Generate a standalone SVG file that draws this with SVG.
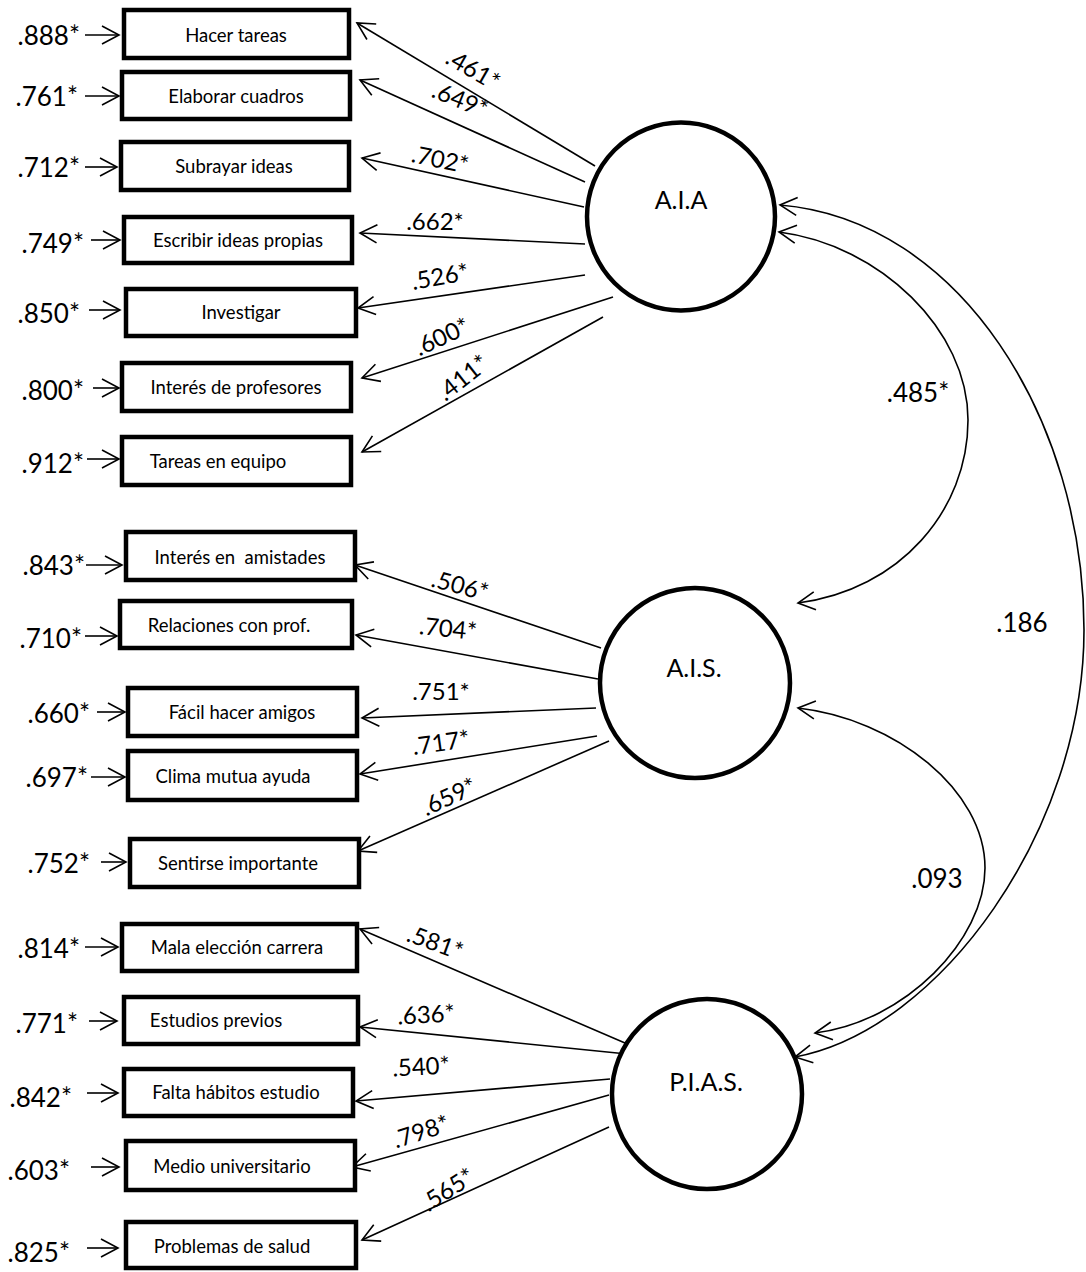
<svg xmlns="http://www.w3.org/2000/svg" width="1086" height="1272" viewBox="0 0 1086 1272">
<style>
text{font-family:Lato,"Liberation Sans",sans-serif;fill:#000}
.box{fill:#fff;stroke:#000;stroke-width:4.5}
.lat{fill:#fff;stroke:#000;stroke-width:4.5}
.bt{font-size:18.5px;text-anchor:middle}
.el{font-size:26px;text-anchor:end}
.ll{font-size:24px;text-anchor:middle}
.cl{font-size:25px;text-anchor:middle}
.cv{font-size:26px;text-anchor:middle}
.ln{fill:none;stroke:#000;stroke-width:1.6;marker-end:url(#ah)}
.arc{fill:none;stroke:#000;stroke-width:1.6;marker-start:url(#ah);marker-end:url(#ah)}
</style>
<defs>
<marker id="ah" markerWidth="22" markerHeight="24" refX="19" refY="12" orient="auto-start-reverse" markerUnits="userSpaceOnUse">
<path d="M2 3 L19 12 L2 21" fill="none" stroke="#000" stroke-width="1.6"/>
</marker>
</defs>
<rect width="1086" height="1272" fill="#fff"/>

<g id="connectors">
<path class="ln" d="M595 166 L357 23"/>
<path class="ln" d="M585 182 L360 80"/>
<path class="ln" d="M584 207 L362 158"/>
<path class="ln" d="M585 244 L360 233"/>
<path class="ln" d="M585 275 L358 308"/>
<path class="ln" d="M613 297 L362 378"/>
<path class="ln" d="M603 317 L362 452"/>
<path class="ln" d="M601 648 L355 565"/>
<path class="ln" d="M598 679 L356 635"/>
<path class="ln" d="M596 708 L362 718"/>
<path class="ln" d="M597 736 L360 774"/>
<path class="ln" d="M609 741 L358 851"/>
<path class="ln" d="M625 1043 L360 929"/>
<path class="ln" d="M627 1054 L360 1027"/>
<path class="ln" d="M610 1079 L356 1101"/>
<path class="ln" d="M609 1095 L352 1167"/>
<path class="ln" d="M609 1127 L362 1240"/>
<path class="ln" d="M85 35 L119 35"/>
<path class="ln" d="M85 96 L119 96"/>
<path class="ln" d="M85 167 L117 167"/>
<path class="ln" d="M91 240 L120 240"/>
<path class="ln" d="M89 310 L120 310"/>
<path class="ln" d="M93 388 L119 388"/>
<path class="ln" d="M87 459 L119 459"/>
<path class="ln" d="M86 565 L122 565"/>
<path class="ln" d="M85 636 L117 636"/>
<path class="ln" d="M97 712 L125 712"/>
<path class="ln" d="M91 777 L125 777"/>
<path class="ln" d="M101 862 L126 862"/>
<path class="ln" d="M85 947 L118 947"/>
<path class="ln" d="M89 1021 L117 1021"/>
<path class="ln" d="M87 1093 L118 1093"/>
<path class="ln" d="M91 1167 L119 1167"/>
<path class="ln" d="M87 1248 L118 1248"/>
<path class="arc" d="M779 232 C880 245 968 330 968 420 C968 510 900 590 798 603"/>
<path class="arc" d="M780 205 C960 220 1084 420 1084 630 C1084 830 940 1030 795 1057"/>
<path class="arc" d="M798 708 C895 719 985 790 985 868 C985 940 905 1022 815 1033"/>
</g>

<g id="labels">
<g transform="translate(473 70) rotate(30)"><text class="ll" y="8">.461*</text></g>
<g transform="translate(460 100) rotate(22)"><text class="ll" y="8">.649*</text></g>
<g transform="translate(440 160) rotate(12)"><text class="ll" y="8">.702*</text></g>
<text class="ll" x="435" y="230">.662*</text>
<g transform="translate(440 277) rotate(-10)"><text class="ll" y="8">.526*</text></g>
<g transform="translate(442 337) rotate(-25)"><text class="ll" y="8">.600*</text></g>
<g transform="translate(463 378) rotate(-38)"><text class="ll" y="8">.411*</text></g>
<g transform="translate(460 586) rotate(15)"><text class="ll" y="8">.506*</text></g>
<g transform="translate(448 629) rotate(6)"><text class="ll" y="8">.704*</text></g>
<text class="ll" x="441" y="700">.751*</text>
<g transform="translate(441 743) rotate(-8)"><text class="ll" y="8">.717*</text></g>
<g transform="translate(449 797) rotate(-25)"><text class="ll" y="8">.659*</text></g>
<g transform="translate(435 943) rotate(20)"><text class="ll" y="8">.581*</text></g>
<g transform="translate(426 1015) rotate(-3)"><text class="ll" y="8">.636*</text></g>
<g transform="translate(421 1067) rotate(-3)"><text class="ll" y="8">.540*</text></g>
<g transform="translate(421 1132) rotate(-18)"><text class="ll" y="8">.798*</text></g>
<g transform="translate(448 1190) rotate(-33)"><text class="ll" y="8">.565*</text></g>
<text class="cv" x="918" y="402">.485*</text>
<text class="cv" x="1022" y="632">.186</text>
<text class="cv" x="937" y="888">.093</text>
<text class="el" x="80" y="45">.888*</text>
<text class="el" x="78" y="106">.761*</text>
<text class="el" x="80" y="177">.712*</text>
<text class="el" x="84" y="253">.749*</text>
<text class="el" x="80" y="323">.850*</text>
<text class="el" x="84" y="400">.800*</text>
<text class="el" x="84" y="473">.912*</text>
<text class="el" x="85" y="575">.843*</text>
<text class="el" x="82" y="648">.710*</text>
<text class="el" x="90" y="723">.660*</text>
<text class="el" x="88" y="787">.697*</text>
<text class="el" x="90" y="873">.752*</text>
<text class="el" x="80" y="958">.814*</text>
<text class="el" x="78" y="1033">.771*</text>
<text class="el" x="72" y="1107">.842*</text>
<text class="el" x="70" y="1180">.603*</text>
<text class="el" x="70" y="1262">.825*</text>
</g>

<g id="AIA"><circle class="lat" cx="681" cy="216.5" r="94"/><text class="cl" x="681" y="209">A.I.A</text></g>
<g id="AIS"><circle class="lat" cx="695" cy="683" r="95"/><text class="cl" x="694" y="677">A.I.S.</text></g>
<g id="PIAS"><circle class="lat" cx="707" cy="1094" r="95"/><text class="cl" x="706" y="1091">P.I.A.S.</text></g>

<g id="n1"><rect class="box" x="124" y="10" width="225" height="48"/><text class="bt" x="236" y="42">Hacer tareas</text></g>
<g id="n2"><rect class="box" x="122" y="72" width="228" height="47"/><text class="bt" x="236" y="103">Elaborar cuadros</text></g>
<g id="n3"><rect class="box" x="121" y="142" width="228" height="48"/><text class="bt" x="234" y="173">Subrayar ideas</text></g>
<g id="n4"><rect class="box" x="124" y="217" width="228" height="46"/><text class="bt" x="238" y="247">Escribir ideas propias</text></g>
<g id="n5"><rect class="box" x="126" y="289" width="230" height="47"/><text class="bt" x="241" y="319">Investigar</text></g>
<g id="n6"><rect class="box" x="122" y="363" width="229" height="48"/><text class="bt" x="236" y="394">Interés de profesores</text></g>
<g id="n7"><rect class="box" x="122" y="437" width="229" height="48"/><text class="bt" x="218" y="468">Tareas en equipo</text></g>
<g id="n8"><rect class="box" x="126" y="532" width="229" height="48"/><text class="bt" x="240" y="564" xml:space="preserve">Interés en  amistades</text></g>
<g id="n9"><rect class="box" x="120" y="601" width="232" height="47"/><text class="bt" x="229" y="632">Relaciones con prof.</text></g>
<g id="n10"><rect class="box" x="128" y="688" width="229" height="48"/><text class="bt" x="242" y="719">Fácil hacer amigos</text></g>
<g id="n11"><rect class="box" x="128" y="751" width="229" height="49"/><text class="bt" x="233" y="783">Clima mutua ayuda</text></g>
<g id="n12"><rect class="box" x="130" y="839" width="229" height="48"/><text class="bt" x="238" y="870">Sentirse importante</text></g>
<g id="n13"><rect class="box" x="122" y="924" width="235" height="47"/><text class="bt" x="237" y="954">Mala elección carrera</text></g>
<g id="n14"><rect class="box" x="124" y="997" width="234" height="47"/><text class="bt" x="216" y="1027">Estudios previos</text></g>
<g id="n15"><rect class="box" x="124" y="1069" width="229" height="47"/><text class="bt" x="236" y="1099">Falta hábitos estudio</text></g>
<g id="n16"><rect class="box" x="126" y="1141" width="229" height="49"/><text class="bt" x="232" y="1173">Medio universitario</text></g>
<g id="n17"><rect class="box" x="126" y="1222" width="230" height="46"/><text class="bt" x="232" y="1253">Problemas de salud</text></g>
</svg>
